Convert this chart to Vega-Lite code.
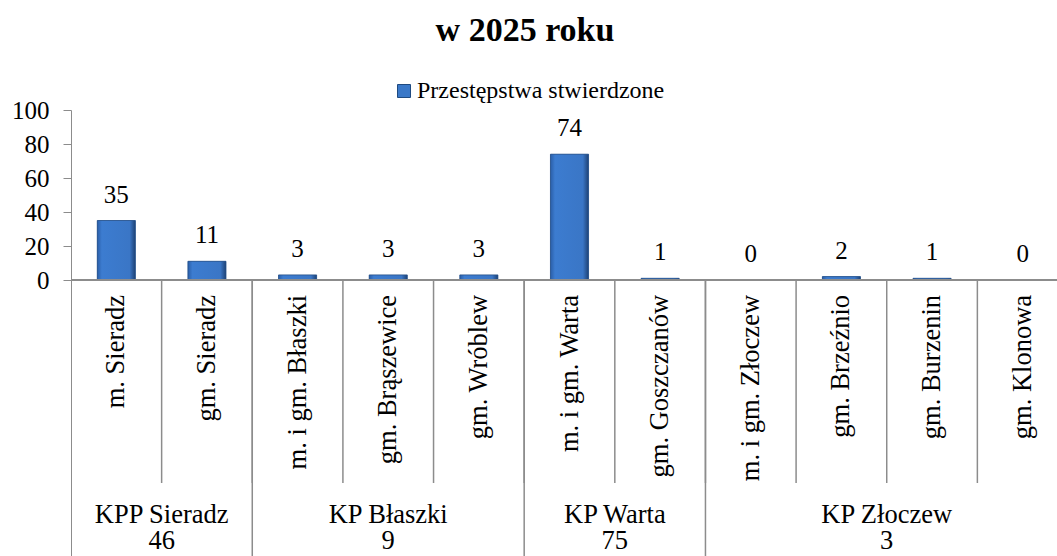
{
  "$schema": "https://vega.github.io/schema/vega-lite/v6.json",
  "width": 986,
  "height": 446,
  "autosize": {"type": "none"},
  "padding": {"left": 71, "top": 110, "right": 0, "bottom": 0},
  "background": "white",
  "config": {"view": {"stroke": null}, "font": "Liberation Serif"},
  "title": {"text": "w 2025 roku", "font": "Liberation Serif", "fontSize": 34, "fontWeight": "bold", "color": "black", "anchor": "middle", "dx": -39, "offset": 31},
  "datasets": {
    "bars": [
      {"cat": "m. Sieradz", "group": "KPP Sieradz", "value": 35},
      {"cat": "gm. Sieradz", "group": "KPP Sieradz", "value": 11},
      {"cat": "m. i gm. Błaszki", "group": "KP Błaszki", "value": 3},
      {"cat": "gm. Brąszewice", "group": "KP Błaszki", "value": 3},
      {"cat": "gm. Wróblew", "group": "KP Błaszki", "value": 3},
      {"cat": "m. i gm. Warta", "group": "KP Warta", "value": 74},
      {"cat": "gm. Goszczanów", "group": "KP Warta", "value": 1},
      {"cat": "m. i gm. Złoczew", "group": "KP Złoczew", "value": 0},
      {"cat": "gm. Brzeźnio", "group": "KP Złoczew", "value": 2},
      {"cat": "gm. Burzenin", "group": "KP Złoczew", "value": 1},
      {"cat": "gm. Klonowa", "group": "KP Złoczew", "value": 0}
    ],
    "groups": [
      {"group": "KPP Sieradz", "total": 46, "at": "gm. Sieradz"},
      {"group": "KP Błaszki", "total": 9, "at": "gm. Brąszewice"},
      {"group": "KP Warta", "total": 75, "at": "gm. Goszczanów"},
      {"group": "KP Złoczew", "total": 3, "at": "gm. Burzenin"}
    ]
  },
  "encoding": {
    "x": {"field": "cat", "type": "nominal", "sort": null, "axis": null,
      "scale": {"domain": ["m. Sieradz", "gm. Sieradz", "m. i gm. Błaszki", "gm. Brąszewice", "gm. Wróblew", "m. i gm. Warta", "gm. Goszczanów", "m. i gm. Złoczew", "gm. Brzeźnio", "gm. Burzenin", "gm. Klonowa"], "range": [0, 997], "paddingInner": 0, "paddingOuter": 0}}
  },
  "layer": [
    {
      "data": {"name": "bars"},
      "mark": {"type": "bar", "width": {"band": 0.42}},
      "encoding": {
        "y": {"field": "value", "type": "quantitative",
          "scale": {"domain": [-162.35, 100], "nice": false, "zero": false},
          "axis": {"values": [0, 20, 40, 60, 80, 100], "title": null, "grid": false, "domainColor": "#8c8c8c", "domainWidth": 1, "tickColor": "#8c8c8c", "tickSize": 8, "labelFont": "Liberation Serif", "labelFontSize": 25, "labelColor": "black", "labelPadding": 14}},
        "color": {"datum": "Przestępstwa stwierdzone", "type": "nominal",
          "scale": {"range": ["#3a78c8"]},
          "legend": {"title": null, "orient": "none", "legendX": 321, "legendY": -31, "padding": 0, "symbolType": "square", "symbolSize": 169, "symbolStrokeColor": "#1f4a80", "symbolStrokeWidth": 1, "labelFont": "Liberation Serif", "labelFontSize": 24, "labelColor": "black", "labelOffset": 1, "labelLimit": 500}}
      }
    },
    {
      "data": {"name": "bars"},
      "mark": {"type": "bar", "width": {"band": 0.42}, "stroke": "#244f88", "strokeWidth": 0.8,
        "fill": {"gradient": "linear", "x1": 0, "y1": 0, "x2": 1, "y2": 0, "stops": [{"offset": 0, "color": "#2a5ea8"}, {"offset": 0.12, "color": "#3c7cd0"}, {"offset": 0.85, "color": "#3a76c6"}, {"offset": 1, "color": "#1e4275"}]}},
      "encoding": {"y": {"field": "value", "type": "quantitative"}}
    },
    {
      "data": {"name": "bars"},
      "mark": {"type": "text", "font": "Liberation Serif", "fontSize": 25, "color": "black", "baseline": "alphabetic", "dy": -18},
      "encoding": {"y": {"field": "value", "type": "quantitative"}, "text": {"field": "value", "type": "quantitative"}}
    },
    {
      "data": {"name": "bars"},
      "mark": {"type": "text", "font": "Liberation Serif", "fontSize": 26.5, "color": "black", "angle": 270, "align": "right", "baseline": "middle"},
      "encoding": {"y": {"datum": -8.8}, "text": {"field": "cat", "type": "nominal"}}
    },
    {
      "data": {"name": "bars"},
      "transform": [{"filter": {"not": {"field": "cat", "equal": "m. Sieradz"}}}],
      "mark": {"type": "rule", "color": "#8c8c8c", "strokeWidth": 1.5},
      "encoding": {"x": {"field": "cat", "type": "nominal", "bandPosition": 0}, "y": {"datum": 0}, "y2": {"datum": -119.4}}
    },
    {
      "data": {"name": "bars"},
      "transform": [{"filter": {"field": "cat", "oneOf": ["m. i gm. Błaszki", "m. i gm. Warta", "m. i gm. Złoczew"]}}],
      "mark": {"type": "rule", "color": "#8c8c8c", "strokeWidth": 1.5},
      "encoding": {"x": {"field": "cat", "type": "nominal", "bandPosition": 0}, "y": {"datum": 0}, "y2": {"datum": -162.35}}
    },
    {
      "data": {"name": "bars"},
      "mark": {"type": "rule", "color": "#8c8c8c", "strokeWidth": 1.5},
      "encoding": {"x": null, "y": {"datum": 0}}
    },
    {
      "data": {"name": "groups"},
      "transform": [{"filter": {"not": {"field": "group", "equal": "KP Błaszki"}}}],
      "mark": {"type": "text", "font": "Liberation Serif", "fontSize": 26.5, "color": "black", "baseline": "alphabetic"},
      "encoding": {"x": {"field": "at", "type": "nominal", "bandPosition": 0}, "y": {"datum": -143.2}, "text": {"field": "group", "type": "nominal"}}
    },
    {
      "data": {"name": "groups"},
      "transform": [{"filter": {"not": {"field": "group", "equal": "KP Błaszki"}}}],
      "mark": {"type": "text", "font": "Liberation Serif", "fontSize": 26.5, "color": "black", "baseline": "alphabetic"},
      "encoding": {"x": {"field": "at", "type": "nominal", "bandPosition": 0}, "y": {"datum": -158.4}, "text": {"field": "total", "type": "quantitative"}}
    },
    {
      "data": {"name": "groups"},
      "transform": [{"filter": {"field": "group", "equal": "KP Błaszki"}}],
      "mark": {"type": "text", "font": "Liberation Serif", "fontSize": 26.5, "color": "black", "baseline": "alphabetic"},
      "encoding": {"x": {"field": "at", "type": "nominal", "bandPosition": 0.5}, "y": {"datum": -143.2}, "text": {"field": "group", "type": "nominal"}}
    },
    {
      "data": {"name": "groups"},
      "transform": [{"filter": {"field": "group", "equal": "KP Błaszki"}}],
      "mark": {"type": "text", "font": "Liberation Serif", "fontSize": 26.5, "color": "black", "baseline": "alphabetic"},
      "encoding": {"x": {"field": "at", "type": "nominal", "bandPosition": 0.5}, "y": {"datum": -158.4}, "text": {"field": "total", "type": "quantitative"}}
    }
  ]
}
